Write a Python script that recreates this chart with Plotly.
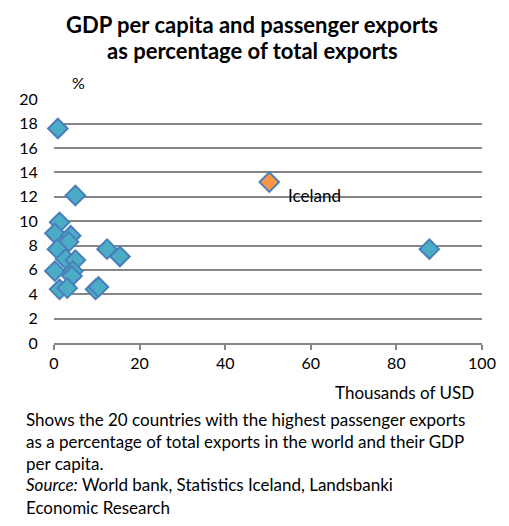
import plotly.graph_objects as go

# GDP per capita (thousands USD) and passenger exports (% of total exports)
gdp = [0.9, 5.0, 1.3, 0.2, 3.9, 3.4, 0.8, 2.7, 5.0, 12.4, 15.4, 0.2, 4.4, 4.2, 1.3, 3.1, 9.7, 10.4, 87.7]
share = [17.6, 12.1, 9.9, 9.0, 8.8, 8.3, 7.7, 6.9, 6.8, 7.7, 7.1, 5.9, 5.9, 5.5, 4.4, 4.5, 4.4, 4.6, 7.7]
iceland_gdp = [50.3]
iceland_share = [13.2]
x_ticks = [0, 20, 40, 60, 80, 100]
y_ticks = [0, 2, 4, 6, 8, 10, 12, 14, 16, 18, 20]

FONT = "Lato"
W, H = 509, 526
L, R, T, B = 54, 27, 99, 183
PH = H - T - B
PW = W - L - R

def py(p):
    return (H - B - p) / PH

def px(p):
    return (p - L) / PW

fig = go.Figure()
fig.add_trace(go.Scatter(
    x=gdp, y=share, mode="markers", cliponaxis=False,
    marker=dict(symbol="diamond", size=15, color="#4bacc6",
                line=dict(color="#4a7ebb", width=2)),
    hoverinfo="skip", showlegend=False))
fig.add_trace(go.Scatter(
    x=iceland_gdp, y=iceland_share, mode="markers", cliponaxis=False,
    marker=dict(symbol="diamond", size=15, color="#f79646",
                line=dict(color="#4a7ebb", width=2)),
    hoverinfo="skip", showlegend=False))

annotations = [
    dict(x=iceland_gdp[0], y=iceland_share[0], xref="x", yref="y", text="Iceland",
         showarrow=False, xanchor="left", yanchor="middle", xshift=17, yshift=-13,
         font=dict(family=FONT, size=17, color="#000")),
    dict(x=px(78), y=py(83), xref="paper", yref="paper", text="%", showarrow=False,
         xanchor="center", yanchor="middle", font=dict(family=FONT, size=16, color="#000")),
    dict(x=px(476), y=py(392), xref="paper", yref="paper", text="Thousands of USD",
         showarrow=False, xanchor="right", yanchor="middle",
         font=dict(family=FONT, size=17, color="#000")),
    dict(x=px(252), y=py(24), xref="paper", yref="paper",
         text="<b>GDP per capita and passenger exports</b>", showarrow=False,
         xanchor="center", yanchor="middle", font=dict(family=FONT, size=22, color="#000")),
    dict(x=px(252), y=py(50), xref="paper", yref="paper",
         text="<b>as percentage of total exports</b>", showarrow=False,
         xanchor="center", yanchor="middle", font=dict(family=FONT, size=22, color="#000")),
]
foot = [
    "Shows the 20 countries with the highest passenger exports",
    "as a percentage of total exports in the world and their GDP",
    "per capita.",
    "<i>Source:</i> World bank, Statistics Iceland, Landsbanki",
    "Economic Research",
]
for i, line in enumerate(foot):
    annotations.append(dict(x=px(24), y=py(419 + 22 * i), xref="paper", yref="paper",
                            text=line, showarrow=False, xanchor="left", yanchor="middle",
                            font=dict(family=FONT, size=17, color="#000")))

fig.update_layout(
    width=W, height=H,
    margin=dict(l=L, r=R, t=T, b=B),
    paper_bgcolor="white", plot_bgcolor="white",
    xaxis=dict(range=[0, 100], tickvals=x_ticks, showgrid=False, zeroline=False,
               showline=True, linecolor="#868686", linewidth=1.5,
               ticks="outside", ticklen=5, tickcolor="#868686", tickwidth=1.5,
               tickfont=dict(family=FONT, size=16, color="#000")),
    yaxis=dict(range=[0, 20.02], tickvals=y_ticks, showgrid=True, gridcolor="#868686",
               gridwidth=1.5, zeroline=False, showline=False,
               ticks="outside", ticklen=12, tickcolor="rgba(0,0,0,0)",
               tickfont=dict(family=FONT, size=16, color="#000")),
    annotations=annotations,
)
fig.write_html("out.html", config={"displayModeBar": False},
               post_script="document.body.style.margin='0';document.body.style.overflow='hidden';")
